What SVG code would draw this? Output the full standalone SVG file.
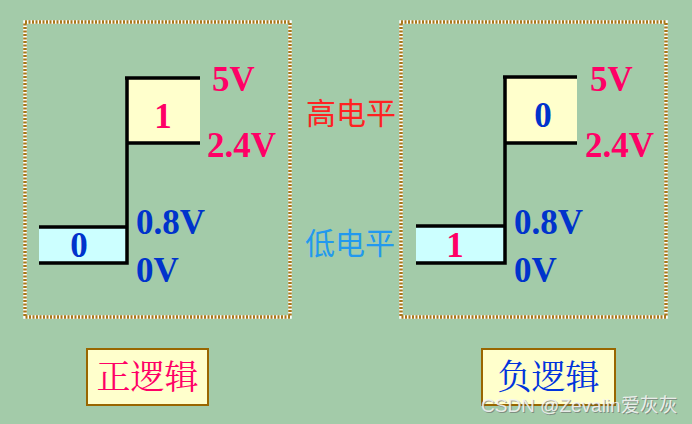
<svg xmlns="http://www.w3.org/2000/svg" width="692" height="424" viewBox="0 0 692 424">
<style>
.frame{fill:none;stroke:#fff;stroke-width:3.5}
.frame2{fill:none;stroke:#A8761A;stroke-width:3.5;stroke-dasharray:2 1.5}
.ln{stroke:#000;stroke-width:3.5;fill:none}
.v{font-family:"Liberation Serif",serif;font-weight:bold;font-size:35px}
.r{fill:#FF0066}
.b{fill:#0033CC}
.cj{font-family:"Noto Sans CJK SC",sans-serif;font-size:30px}
.box{fill:#FFFFCC;stroke:#996600;stroke-width:2}
.bt{font-family:"Noto Serif CJK SC","Noto Sans CJK SC",serif;font-size:34px}
.wm{font-family:"Liberation Sans","Noto Sans CJK SC",sans-serif;font-size:19px}
</style>
<rect width="692" height="424" fill="#A3CBA9"/>
<g id="left-panel">
<rect x="25" y="22" width="265" height="295" class="frame"/>
<rect x="25" y="22" width="265" height="295" class="frame2"/>
<rect x="127" y="78" width="73" height="65" fill="#FFFFCC"/>
<rect x="39" y="227" width="88" height="36" fill="#CCFFFF"/>
<path class="ln" d="M125 78H200M127 78V263H39M127 143H200M39 227H127"/>
<text x="163" y="128" text-anchor="middle" class="v r">1</text>
<text x="79" y="257" text-anchor="middle" class="v b">0</text>
<text x="212" y="91" class="v r">5V</text>
<text x="207" y="157" class="v r">2.4V</text>
<text x="136" y="234" class="v b">0.8V</text>
<text x="136" y="282" class="v b">0V</text>
</g>
<g id="right-panel">
<rect x="401" y="22" width="265" height="295" class="frame"/>
<rect x="401" y="22" width="265" height="295" class="frame2"/>
<rect x="505" y="77" width="72" height="66" fill="#FFFFCC"/>
<rect x="416" y="226" width="89" height="37" fill="#CCFFFF"/>
<path class="ln" d="M503 77H577M505 77V263H416M505 143H577M416 226H505"/>
<text x="543" y="127" text-anchor="middle" class="v b">0</text>
<text x="455" y="257" text-anchor="middle" class="v r">1</text>
<text x="590" y="91" class="v r">5V</text>
<text x="585" y="157" class="v r">2.4V</text>
<text x="514" y="234" class="v b">0.8V</text>
<text x="514" y="282" class="v b">0V</text>
</g>
<g id="labels">
<text x="351" y="124" text-anchor="middle" class="cj" fill="#FF2222">高电平</text>
<text x="350" y="254" text-anchor="middle" class="cj" fill="#2299EE">低电平</text>
</g>
<g id="positive">
<rect x="87" y="349" width="121" height="56" class="box"/>
<text x="147.5" y="389" text-anchor="middle" class="bt" fill="#FF0066">正逻辑</text>
</g>
<g id="negative">
<rect x="482" y="349" width="133" height="56" class="box"/>
<text x="548.5" y="389" text-anchor="middle" class="bt" fill="#0033DD">负逻辑</text>
</g>
<text x="482" y="413" class="wm" fill="#666" fill-opacity="0.6">CSDN @Zevalin爱灰灰</text>
<text x="481" y="412" class="wm" fill="#F4F4F4" fill-opacity="0.9">CSDN @Zevalin爱灰灰</text>
</svg>
